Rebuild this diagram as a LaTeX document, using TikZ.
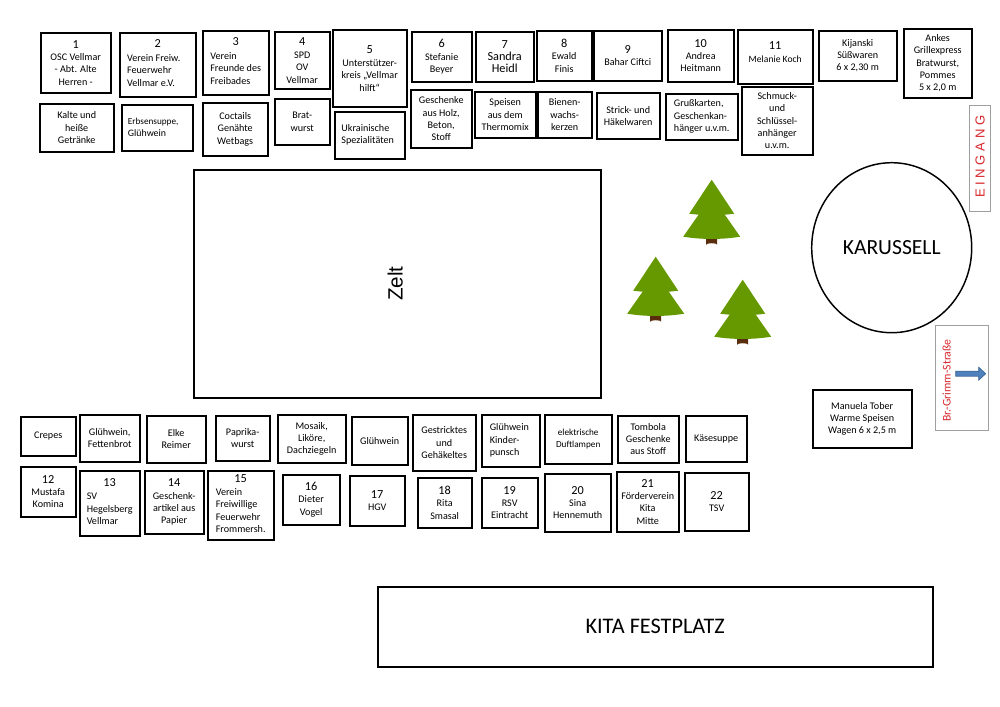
\documentclass[tikz,border=0pt]{standalone}
\usepackage{fontspec}
\usepackage{xcolor}
\usetikzlibrary{positioning,shapes.geometric}
\setmainfont{Carlito}
\newfontfamily\arialfont{Liberation Sans}
\definecolor{tree}{HTML}{669900}
\definecolor{trunk}{HTML}{5A2D0C}
\definecolor{sign}{HTML}{D8262C}
\definecolor{street}{HTML}{4F81BD}
\newcommand{\nr}[1]{{\fontsize{9.2}{11}\selectfont #1}}
\newcommand{\lft}[2][0pt]{\begin{tabular}{@{}l@{\hspace{#1}}}#2\end{tabular}}
\tikzset{
  booth/.style 2 args={draw,line width=1.3pt,anchor=north west,inner sep=0pt,outer sep=0pt,align=center,
    minimum width=#1*0.75pt,minimum height=#2*0.75pt,
    font=\fontsize{7.6}{9.2}\selectfont},
  signbox/.style 2 args={draw=gray!75,line width=0.6pt,anchor=north west,inner sep=0pt,outer sep=0pt,
    minimum width=#1*0.75pt,minimum height=#2*0.75pt,text=sign},
  bigarea/.style 2 args={draw,line width=1.3pt,anchor=north west,outer sep=0pt,
    minimum width=#1*0.75pt,minimum height=#2*0.75pt,font=\fontsize{16.7}{20}\selectfont},
  pinetree/.pic={
    \fill[trunk] (-5.5,53) -- (-5.5,65) arc[start angle=180,end angle=360,x radius=5.5,y radius=1.5] -- (5.5,53) -- cycle;
    \fill[tree] (-11,32) -- (-28.5,57) .. controls (-10,60) and (10,60) .. (28.5,57) -- (11,32) -- cycle;
    \fill[tree] (0,0) -- (-22.5,34) .. controls (-8,36) and (8,36) .. (22.5,34) -- cycle;
  }
}

\begin{document}
\begin{tikzpicture}[x=0.75pt,y=-0.75pt]
  \useasboundingbox (-0.7,-0.7) rectangle (999.3,706.3);

  % upper row
  \path
  (40,32) node[booth={70}{60}](s1) {\nr{1}\\OSC Vellmar\\- Abt. Alte\\Herren -}
  (119,32) node[booth={76}{64}](s2) {\nr{2}\\[3pt]\lft[6pt]{Verein Freiw.\\Feuerwehr\\Vellmar e.V.}}
  (202,30) node[booth={66}{64}](s3) {\nr{3}\\[3pt]\lft{Verein\\Freunde des\\Freibades}}
  (274,31) node[booth={55}{57}](s4) {\nr{4}\\[1pt]SPD\\OV\\Vellmar}
  (332,29) node[booth={74}{77}](s5) {\nr{5}\\[1pt]Unterstützer-\\kreis „Vellmar\\hilft“}
  (411,31) node[booth={60}{50}](s6) {\nr{6}\\Stefanie\\Beyer}
  (475,31) node[booth={58}{50}](s7) {\nr{7}\\\nr{Sandra}\\\nr{Heidl}}
  (536,30) node[booth={55}{50}](s8) {\nr{8}\\Ewald\\Finis}
  (593,30) node[booth={68}{50}](s9) {\nr{9}\\Bahar Ciftci}
  (667,29) node[booth={66}{52}](s10) {\nr{10}\\Andrea\\Heitmann}
  (737,29) node[booth={75}{54},text depth=7pt](s11) {\nr{11}\\\fontsize{7.2}{9.2}\selectfont Melanie Koch}
  (818,30) node[booth={78}{50}](kij) {Kijanski\\Süßwaren\\6 x 2,30 m}
  (903,28) node[booth={68}{69}](ankes) {Ankes\\Grillexpress\\Bratwurst,\\Pommes\\5 x 2,0 m}
  ;

  % goods below the upper row
  \path
  (39,103) node[booth={74}{48}](g1) {Kalte und\\heiße\\Getränke}
  (121,104) node[booth={71}{46}](g2) {\lft[6pt]{\fontsize{6.9}{9.2}\selectfont Erbsensuppe,\\\fontsize{7.4}{9.2}\selectfont Glühwein}}
  (202,102) node[booth={65}{53}](g3) {Coctails\\Genähte\\Wetbags}
  (274,98) node[booth={55}{46}](g4) {Brat-\\wurst}
  (334,111) node[booth={70}{47}](g5) {\lft[3pt]{Ukrainische\\Spezialitäten}}
  (410,89) node[booth={61}{58}](g6) {Geschenke\\aus Holz,\\Beton,\\Stoff}
  (474,91) node[booth={61}{46}](g7) {Speisen\\aus dem\\Thermomix}
  (537,91) node[booth={54}{46}](g8) {Bienen-\\wachs-\\kerzen}
  (596,92) node[booth={63}{46}](g9) {Strick- und\\Häkelwaren}
  (665,93) node[booth={72}{46}](g10) {\lft{Grußkarten,\\Geschenkan-\\hänger u.v.m.}}
  (741,86) node[booth={71}{68}](g11) {Schmuck-\\und\\Schlüssel-\\anhänger\\u.v.m.}
  ;

  % lower rows
  \path
  (20,416) node[booth={55}{39}](g12) {Crepes}
  (79,414) node[booth={60}{47}](g13) {Glühwein,\\Fettenbrot}
  (146,415) node[booth={59}{47}](g14) {Elke\\Reimer}
  (215,415) node[booth={54}{45}](g15) {Paprika-\\wurst}
  (277,414) node[booth={68}{48}](g16) {Mosaik,\\Liköre,\\Dachziegeln}
  (351,416) node[booth={56}{48}](g17) {Glühwein}
  (412,414) node[booth={63}{56}](g18) {Gestricktes\\und\\Gehäkeltes}
  (481,414) node[booth={58}{52}](g19) {\lft[2pt]{Glühwein\\Kinder-\\punsch}}
  (544,414) node[booth={67}{49}](g20) {\fontsize{6.9}{9.2}\selectfont elektrische\\\fontsize{6.9}{9.2}\selectfont Duftlampen}
  (617,415) node[booth={61}{47}](g21) {Tombola\\Geschenke\\aus Stoff}
  (685,415) node[booth={61}{46}](g22) {Käsesuppe}
  ;
  \path
  (20,466) node[booth={55}{50}](s12) {\nr{12}\\Mustafa\\Komina}
  (79,470) node[booth={60}{65}](s13) {\nr{13}\\[2.5pt]\lft{SV\\Hegelsberg\\Vellmar}}
  (144,470) node[booth={59}{63}](s14) {\nr{14}\\Geschenk-\\artikel aus\\Papier}
  (207,470) node[booth={66}{69}](s15) {\nr{15}\\[2.5pt]\lft{Verein\\Freiwillige\\Feuerwehr\\Frommersh.}}
  (282,474) node[booth={57}{50}](s16) {\nr{16}\\Dieter\\Vogel}
  (349,475) node[booth={55}{50}](s17) {\nr{17}\\HGV}
  (417,477) node[booth={54}{50}](s18) {\nr{18}\\Rita\\Smasal}
  (481,477) node[booth={56}{50}](s19) {\nr{19}\\RSV\\Eintracht}
  (544,473) node[booth={66}{58}](s20) {\nr{20}\\Sina\\Hennemuth}
  (616,471) node[booth={62}{60}](s21) {\nr{21}\\Förderverein\\Kita\\Mitte}
  (684,472) node[booth={64}{58}](s22) {\nr{22}\\TSV}
  ;

  % areas
  \path
  (193,169) node[bigarea={407}{228}](zelt) {\rotatebox{90}{\arialfont\fontsize{15.5}{18}\selectfont Zelt}\hspace*{3pt}}
  (377,586) node[bigarea={555}{80}](kita) {KITA FESTPLATZ}
  (812,389) node[booth={99}{58}](tober) {Manuela Tober\\Warme Speisen\\Wagen 6 x 2,5 m}
  (891,247) node[ellipse,draw,line width=1.1pt,minimum width=160*0.75pt,minimum height=170*0.75pt,inner sep=0pt,
    font=\fontsize{16.2}{18}\selectfont](karussell) {KARUSSELL}
  ;

  % signs
  \path
  (969,105) node[signbox={21}{106}](eingang) {\rotatebox{90}{\arialfont\fontsize{9.8}{11}\selectfont E I N G A N G\hspace*{-3pt}}}
  (935,325) node[signbox={53}{105}](strasse) {}
  (946,380) node[text=sign,rotate=90,inner sep=0pt,font=\fontsize{8.8}{10}\selectfont](grimm) {Br.-Grimm-Straße}
  ;
  \draw[street!80!black,fill=street,line width=0.5pt]
    (955,370.5) -- (978,370.5) -- (978,366.5) -- (985,373) -- (978,379.5) -- (978,375.5) -- (955,375.5) -- cycle;

  % trees
  \path (711,179) pic {pinetree};
  \path (655,256) pic {pinetree};
  \path (742,279) pic {pinetree};
\end{tikzpicture}
\end{document}
